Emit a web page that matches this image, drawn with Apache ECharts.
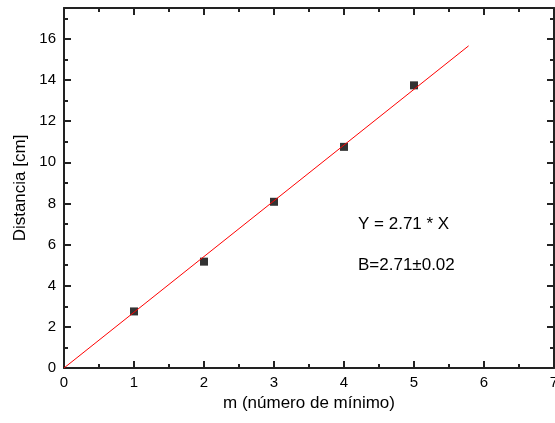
<!DOCTYPE html>
<html>
<head>
<meta charset="utf-8">
<script src="https://cdn.jsdelivr.net/npm/echarts@6/dist/echarts.min.js"></script>
<style>
  html, body { margin: 0; padding: 0; background: #fff; }
  #js-echarts { width: 555px; height: 423px; }
</style>
</head>
<body>
<div id="js-echarts"></div>
<script>
const mValues = [1, 2, 3, 4, 5];
const distances = [2.75, 5.17, 8.08, 10.75, 13.74];
const fitX = [0, 5.78];
const fitY = [0, 15.66];
const fitText = 'Y = 2.71 * X';
const slopeText = 'B=2.71±0.02';

const chartDom = document.getElementById('js-echarts');
if(chartDom){
  const chart = echarts.init(chartDom);
  const font = 'Liberation Sans';
  const black = '#000';
  const axisColor = '#222';

  const makeAxis = (pos, interval, tickLen, labels, line) => ({
    type: 'value',
    position: pos,
    min: 0,
    interval: interval,
    axisLine: { show: line, onZero: false, lineStyle: { color: axisColor, width: 2 } },
    axisTick: { show: true, inside: true, length: tickLen, lineStyle: { color: axisColor, width: 2 } },
    axisLabel: { show: labels, color: black, fontFamily: font, fontSize: 15, margin: 7 },
    splitLine: { show: false }
  });

  const xAxes = [
    Object.assign(makeAxis('bottom', 1, 7, true, true), {
      max: 7,
      name: 'm (número de mínimo)', nameLocation: 'middle', nameGap: 26,
      nameTextStyle: { color: black, fontFamily: font, fontSize: 17 }
    }),
    Object.assign(makeAxis('bottom', 0.5, 4, false, false), { max: 7 }),
    Object.assign(makeAxis('top', 1, 7, false, true), { max: 7 }),
    Object.assign(makeAxis('top', 0.5, 4, false, false), { max: 7 })
  ];
  const yAxes = [
    Object.assign(makeAxis('left', 2, 7, true, true), {
      max: 17.5,
      axisLabel: { show: true, color: black, fontFamily: font, fontSize: 15, margin: 8, showMaxLabel: false },
      name: 'Distancia [cm]', nameLocation: 'middle', nameGap: 31,
      nameTextStyle: { color: black, fontFamily: font, fontSize: 17 }
    }),
    Object.assign(makeAxis('left', 1, 4, false, false), { max: 17.5 }),
    Object.assign(makeAxis('right', 2, 7, false, true), { max: 17.5 }),
    Object.assign(makeAxis('right', 1, 4, false, false), { max: 17.5 })
  ];

  const option = {
    animation: false,
    backgroundColor: '#fff',
    grid: { left: 64, right: 1, top: 8, bottom: 55, outerBoundsMode: 'none', containLabel: false },
    xAxis: xAxes,
    yAxis: yAxes,
    graphic: [
      { type: 'text', left: 358, top: 216, style: { text: fitText, fill: black, font: '17px "Liberation Sans"' } },
      { type: 'text', left: 358, top: 257, style: { text: slopeText, fill: black, font: '17px "Liberation Sans"' } }
    ],
    series: [
      {
        type: 'line',
        data: fitX.map((x, i) => [x, fitY[i]]),
        showSymbol: false,
        lineStyle: { color: '#ff0000', width: 1 },
        z: 3
      },
      {
        type: 'scatter',
        data: mValues.map((m, i) => [m, distances[i]]),
        symbol: 'rect',
        symbolSize: 8,
        itemStyle: { color: black },
        z: 2
      }
    ]
  };

  chart.setOption(option);
}
</script>
</body>
</html>
